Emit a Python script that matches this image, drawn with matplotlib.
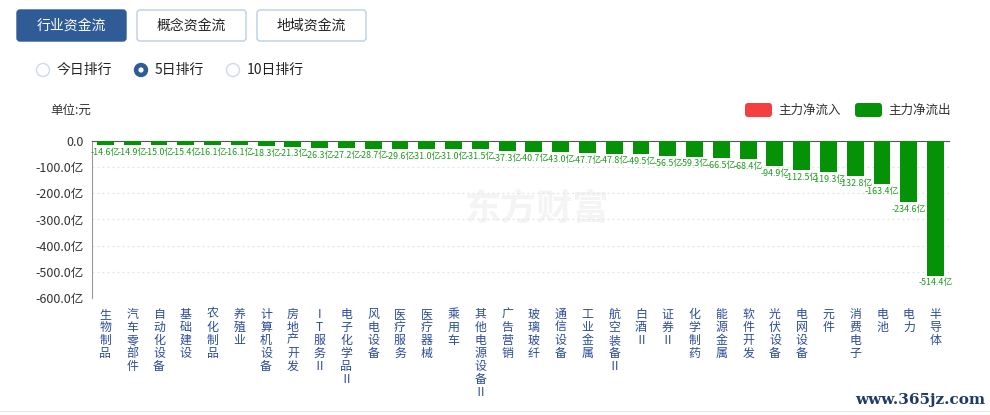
import matplotlib
matplotlib.use("Agg")
import matplotlib.pyplot as plt
from matplotlib.patches import FancyBboxPatch, Circle, Rectangle

plt.rcParams['font.family'] = ['Noto Sans CJK SC', 'DejaVu Sans']

industries = ["生物制品", "汽车零部件", "自动化设备", "基础建设", "农化制品", "养殖业",
              "计算机设备", "房地产开发", "IT服务Ⅱ", "电子化学品Ⅱ", "风电设备", "医疗服务",
              "医疗器械", "乘用车", "其他电源设备Ⅱ", "广告营销", "玻璃玻纤", "通信设备",
              "工业金属", "航空装备Ⅱ", "白酒Ⅱ", "证券Ⅱ", "化学制药", "能源金属",
              "软件开发", "光伏设备", "电网设备", "元件", "消费电子", "电池", "电力", "半导体"]
net_flow = [-14.6, -14.9, -15.0, -15.4, -16.1, -16.1, -18.3, -21.3, -26.3, -27.2, -28.7,
            -29.6, -31.0, -31.0, -31.5, -37.3, -40.7, -43.0, -47.7, -47.8, -49.5, -56.5,
            -59.3, -66.5, -68.4, -94.9, -112.5, -119.3, -132.8, -163.4, -234.6, -514.4]
y_ticks = [0, -100, -200, -300, -400, -500, -600]
tabs = ["行业资金流", "概念资金流", "地域资金流"]
radios = ["今日排行", "5日排行", "10日排行"]
legend_items = [("主力净流入", "#f53e3e"), ("主力净流出", "#069206")]

W, H = 990, 415
fig = plt.figure(figsize=(W / 100, H / 100), dpi=100)
fig.set_facecolor("white")

# chart area
ax = fig.add_axes([92 / W, 1 - 298 / H, 857 / W, 157 / H])
x = range(len(industries))
bars = ax.bar(x, net_flow, width=0.63, color="#069206", zorder=3)
for xi, v in zip(x, net_flow):
    ax.annotate(f"{v:.1f}亿", (xi, v), xytext=(0, -2), textcoords="offset points",
                ha="center", va="top", fontsize=6.4, color="#1f9a1f", zorder=4)

ax.set_xlim(-0.5, len(industries) - 0.5)
ax.set_ylim(-600, 0)
ax.set_yticks(y_ticks)
ax.set_yticklabels(["0.0" if t == 0 else f"{t:.1f}亿" for t in y_ticks],
                   fontsize=9, color="#333333")
ax.set_xticks(list(x))
ax.set_xticklabels(["\n".join(name) for name in industries], fontsize=8.6,
                   color="#2b4c9b", va="top", linespacing=1.0)
ax.tick_params(axis="both", length=0)
ax.tick_params(axis="x", pad=7)
ax.tick_params(axis="y", pad=6)
for yv in y_ticks[1:]:
    ax.axhline(yv, color="#e2e2e2", linestyle=(0, (1.5, 2.5)), linewidth=0.9, zorder=1)
for side in ["right", "bottom"]:
    ax.spines[side].set_visible(False)
ax.spines["top"].set_color("#555555")
ax.spines["left"].set_color("#999999")
ax.text(0.52, 0.57, "东方财富", transform=ax.transAxes, fontsize=26, fontweight="bold",
        color="#f4f4f4", ha="center", va="center", zorder=0)

# page overlay in pixel coordinates
ov = fig.add_axes([0, 0, 1, 1], zorder=-1)
ov.set_xlim(0, W)
ov.set_ylim(H, 0)
ov.axis("off")

tab_x = [17, 137, 257]
for i, (label, tx) in enumerate(zip(tabs, tab_x)):
    active = i == 0
    ov.add_patch(FancyBboxPatch((tx, 10), 109, 31, boxstyle="round,pad=0,rounding_size=3",
                                facecolor="#2f5b97" if active else "white",
                                edgecolor="#2f5b97" if active else "#b9cfe4", linewidth=1))
    ov.text(tx + 54.5, 26, label, ha="center", va="center", fontsize=10,
            color="white" if active else "#222222")

radio_x = [43, 141, 233]
for i, (label, rx) in enumerate(zip(radios, radio_x)):
    if i == 1:
        ov.add_patch(Circle((rx, 70), 6.5, facecolor="#2f5b97", edgecolor="#2f5b97"))
        ov.add_patch(Circle((rx, 70), 2.6, facecolor="white", edgecolor="none"))
    else:
        ov.add_patch(Circle((rx, 70), 6.5, facecolor="white", edgecolor="#c9dcec", linewidth=1))
    ov.text(rx + 14, 70, label, ha="left", va="center", fontsize=10, color="#222222")

ov.text(50, 110, "单位:元", ha="left", va="center", fontsize=9, color="#333333")

leg_x = [745, 855]
for (label, col), lx in zip(legend_items, leg_x):
    ov.add_patch(FancyBboxPatch((lx, 103), 27, 14, boxstyle="round,pad=0,rounding_size=3",
                                facecolor=col, edgecolor="none"))
    ov.text(lx + 33, 110, label, ha="left", va="center", fontsize=9, color="#333333")

ov.add_patch(Rectangle((0, 411), W, 1, facecolor="#e6e6e6", edgecolor="none"))
ov.text(985, 400, "www.365jz.com", ha="right", va="center", fontsize=11,
        family="DejaVu Serif", fontweight="bold", color="#1d3a6b")

fig.savefig("out.png", dpi=100)
